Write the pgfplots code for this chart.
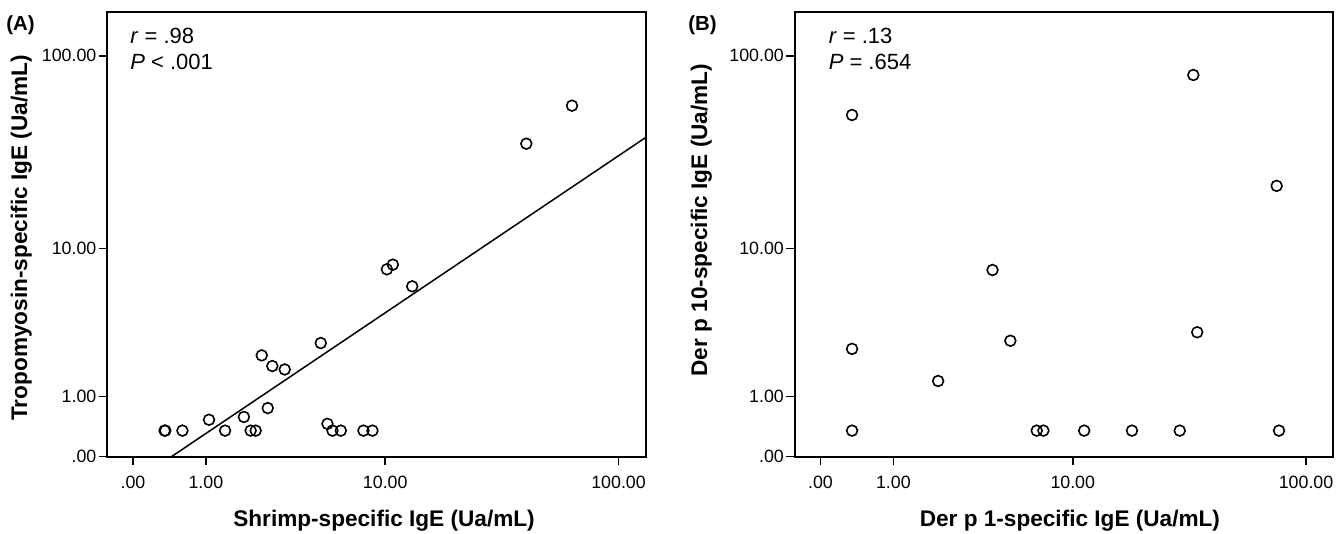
\documentclass[border=0pt]{standalone}
\usepackage{fontspec}
\setmainfont{Liberation Sans}
\usepackage{pgfplots}
\usepackage{pgfplotstable}
\pgfplotsset{compat=1.18}

% IgE values (Ua/mL); axes are drawn on a log10(value+1) scale as in SPSS
\pgfplotstableread{
x y
0.35 0.35
0.36 0.35
0.60 0.35
1.06 0.53
1.40 0.35
1.87 0.58
2.06 0.35
2.21 0.35
2.60 0.75
2.40 2.21
2.76 1.84
3.23 1.73
4.96 2.70
5.35 0.46
5.66 0.35
6.21 0.35
7.94 0.35
8.74 0.35
10.17 7.65
10.82 8.12
13.21 6.11
41.03 35.73
63.9 55.9
}\shrimp

\pgfplotstableread{
x y
0.441 0
129.5 38.4
}\shrimpfit

\pgfplotstableread{
x y
0.35 0.35
0.35 2.46
0.35 50.1
2.06 1.39
4.13 7.58
5.08 2.80
6.81 0.35
7.32 0.35
11.26 0.35
18.31 0.35
29.4 0.35
34.9 3.19
33.6 80.0
75.4 21.6
77.1 0.35
}\derp

\begin{document}
\begin{tikzpicture}

% ---- (A) ----
\begin{axis}[
  at={(53.75pt,38.65pt)}, anchor=south west,
  scale only axis,
  width=269pt, height=222.35pt,
  xmode=log, ymode=log,
  xmin=0.785, xmax=130.5,
  ymin=1, ymax=167.3,
  xtick={1,2,11,101}, ytick={1,2,11,101},
  xticklabels={.00,1.00,10.00,100.00},
  yticklabels={.00,1.00,10.00,100.00},
  minor tick num=0,
  tick pos=left, tick align=outside,
  major tick length=4.4pt,
  tick style={black, line width=0.8pt},
  axis line style={black, line width=1pt},
  ticklabel style={font=\fontsize{8.9}{10}\selectfont, inner sep=0pt},
  xticklabel style={anchor=north, yshift=-5.2pt},
  yticklabel style={anchor=east, xshift=-1pt},
  label style={font=\bfseries\fontsize{11.3}{13}\selectfont},
  xlabel={Shrimp-specific IgE (Ua/mL)},
  ylabel={Tropomyosin-specific IgE (Ua/mL)},
  xlabel style={at={(axis description cs:0.514,-0.157)}, anchor=base},
  ylabel style={at={(axis description cs:-0.16,0.492)}, anchor=center},
  ]
  \addplot[only marks, mark=o, mark size=2.7pt, mark options={black, line width=0.8pt}]
    table[x expr=\thisrow{x}+1, y expr=\thisrow{y}+1] {\shrimp};
  % fit line
  \addplot[black, line width=0.75pt, no marks]
    table[x expr=\thisrow{x}+1, y expr=\thisrow{y}+1] {\shrimpfit};
  \node[anchor=base west, inner sep=0pt, font=\fontsize{11}{13}\selectfont]
    at (axis description cs:0.0418,0.930) {\textit{r} = .98};
  \node[anchor=base west, inner sep=0pt, font=\fontsize{11}{13}\selectfont]
    at (axis description cs:0.0418,0.870) {\textit{P} < .001};
\end{axis}

% ---- (B) ----
\begin{axis}[
  at={(397.5pt,38.65pt)}, anchor=south west,
  scale only axis,
  width=269pt, height=222.35pt,
  xmode=log, ymode=log,
  xmin=0.785, xmax=130.5,
  ymin=1, ymax=167.3,
  xtick={1,2,11,101}, ytick={1,2,11,101},
  xticklabels={.00,1.00,10.00,100.00},
  yticklabels={.00,1.00,10.00,100.00},
  minor tick num=0,
  tick pos=left, tick align=outside,
  major tick length=4.4pt,
  tick style={black, line width=0.8pt},
  axis line style={black, line width=1pt},
  ticklabel style={font=\fontsize{8.9}{10}\selectfont, inner sep=0pt},
  xticklabel style={anchor=north, yshift=-5.2pt},
  yticklabel style={anchor=east, xshift=-1pt},
  label style={font=\bfseries\fontsize{11.3}{13}\selectfont},
  xlabel={Der p 1-specific IgE (Ua/mL)},
  ylabel={Der p 10-specific IgE (Ua/mL)},
  xlabel style={at={(axis description cs:0.511,-0.157)}, anchor=base},
  ylabel style={at={(axis description cs:-0.174,0.532)}, anchor=center},
  ]
  \addplot[only marks, mark=o, mark size=2.7pt, mark options={black, line width=0.8pt}]
    table[x expr=\thisrow{x}+1, y expr=\thisrow{y}+1] {\derp};
  \node[anchor=base west, inner sep=0pt, font=\fontsize{11}{13}\selectfont]
    at (axis description cs:0.062,0.930) {\textit{r} = .13};
  \node[anchor=base west, inner sep=0pt, font=\fontsize{11}{13}\selectfont]
    at (axis description cs:0.062,0.870) {\textit{P} = .654};
\end{axis}

\node[anchor=north west, inner sep=0pt, font=\bfseries\fontsize{10.2}{12}\selectfont]
  at (3pt,259.5pt) {(A)};
\node[anchor=north west, inner sep=0pt, font=\bfseries\fontsize{10.2}{12}\selectfont]
  at (344pt,259.5pt) {(B)};

\pgfresetboundingbox
\useasboundingbox (0,0) rectangle (670.5pt,267pt);
\end{tikzpicture}
\end{document}
